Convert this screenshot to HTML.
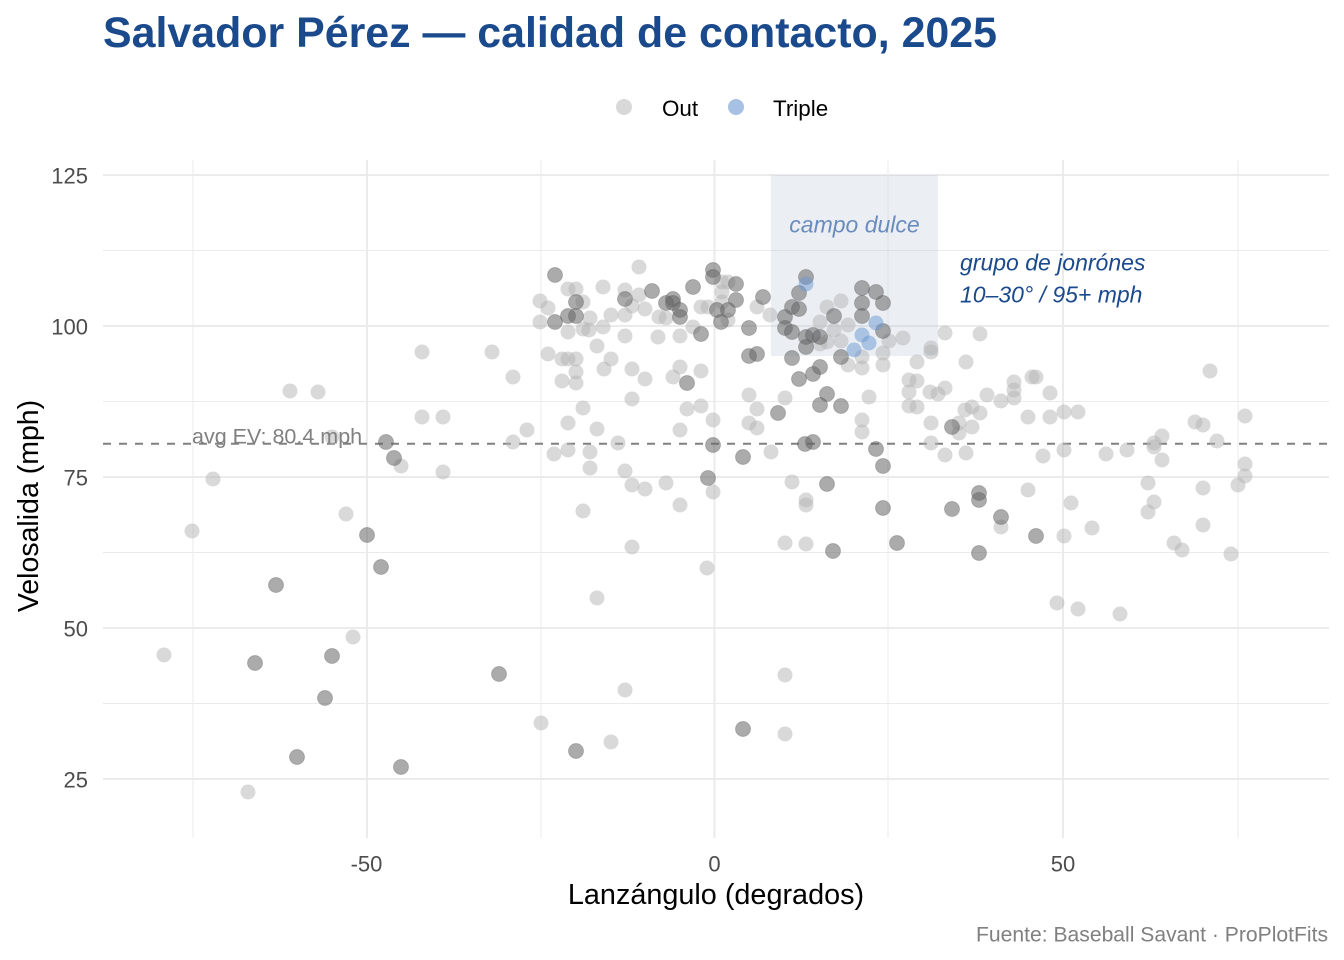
<!DOCTYPE html>
<html>
<head>
<meta charset="utf-8">
<style>
html,body{margin:0;padding:0;background:#fff;}
body{width:1344px;height:960px;overflow:hidden;}
svg{display:block;font-family:"Liberation Sans",Arial,sans-serif;}
.lt{fill:#b3b3b3;fill-opacity:0.5;}
.dk{fill:#666;fill-opacity:0.55;stroke:#555;stroke-opacity:0.3;stroke-width:1;}
.bl{fill:#6a97d0;fill-opacity:0.5;}
</style>
</head>
<body>
<svg width="1344" height="960" viewBox="0 0 1344 960" xmlns="http://www.w3.org/2000/svg">
<rect width="1344" height="960" fill="#fff"/>
<!-- title -->
<text x="103" y="47" font-size="43" font-weight="bold" fill="#1a4a8c" textLength="894" lengthAdjust="spacingAndGlyphs">Salvador Pérez — calidad de contacto, 2025</text>
<!-- legend -->
<circle cx="624" cy="107" r="8" fill="#d9d9d9"/>
<text x="662" y="116" font-size="22.4" fill="#000">Out</text>
<circle cx="736" cy="107" r="8" fill="#a6c1e3"/>
<text x="773" y="116" font-size="22.4" fill="#000">Triple</text>

<!-- grid minor -->
<g stroke="#ebebeb" stroke-width="1">
<line x1="103" x2="1329" y1="250.5" y2="250.5"/>
<line x1="103" x2="1329" y1="401.5" y2="401.5"/>
<line x1="103" x2="1329" y1="552.5" y2="552.5"/>
<line x1="103" x2="1329" y1="703.5" y2="703.5"/>
<line x1="193" x2="193" y1="160" y2="838"/>
<line x1="541" x2="541" y1="160" y2="838"/>
<line x1="888" x2="888" y1="160" y2="838"/>
<line x1="1238" x2="1238" y1="160" y2="838"/>
</g>
<!-- grid major -->
<g stroke="#ebebeb" stroke-width="2">
<line x1="103" x2="1329" y1="175" y2="175"/>
<line x1="103" x2="1329" y1="326" y2="326"/>
<line x1="103" x2="1329" y1="477" y2="477"/>
<line x1="103" x2="1329" y1="628" y2="628"/>
<line x1="103" x2="1329" y1="779" y2="779"/>
<line x1="367" x2="367" y1="160" y2="838"/>
<line x1="714.5" x2="714.5" y1="160" y2="838"/>
<line x1="1063" x2="1063" y1="160" y2="838"/>
</g>
<!-- sweet spot rect -->
<rect x="771" y="175" width="167" height="181" fill="#b8c4d6" fill-opacity="0.28"/>
<!-- avg line -->
<line x1="103" x2="1328" y1="443.7" y2="443.7" stroke="#808080" stroke-width="2" stroke-dasharray="8 8"/>

<!-- light points -->
<g class="lt">
<circle cx="290" cy="391" r="7.5"/><circle cx="318" cy="392" r="7.5"/><circle cx="332" cy="437" r="7.5"/><circle cx="401" cy="466" r="7.5"/><circle cx="213" cy="479" r="7.5"/><circle cx="346" cy="514" r="7.5"/><circle cx="192" cy="531" r="7.5"/><circle cx="353" cy="637" r="7.5"/><circle cx="164" cy="655" r="7.5"/><circle cx="248" cy="792" r="7.5"/>
<circle cx="639" cy="267" r="7.5"/><circle cx="540" cy="301" r="7.5"/><circle cx="548" cy="308" r="7.5"/><circle cx="568" cy="289" r="7.5"/><circle cx="576" cy="289" r="7.5"/><circle cx="583" cy="302" r="7.5"/><circle cx="603" cy="287" r="7.5"/><circle cx="625" cy="290" r="7.5"/><circle cx="639" cy="295" r="7.5"/><circle cx="632" cy="306" r="7.5"/><circle cx="645" cy="309" r="7.5"/><circle cx="701" cy="307" r="7.5"/><circle cx="708" cy="307" r="7.5"/><circle cx="540" cy="322" r="7.5"/><circle cx="568" cy="332" r="7.5"/><circle cx="583" cy="329" r="7.5"/><circle cx="589" cy="330" r="7.5"/><circle cx="590" cy="318" r="7.5"/><circle cx="603" cy="327" r="7.5"/><circle cx="611" cy="315" r="7.5"/><circle cx="625" cy="315" r="7.5"/><circle cx="625" cy="336" r="7.5"/><circle cx="658" cy="337" r="7.5"/><circle cx="659" cy="317" r="7.5"/><circle cx="666" cy="318" r="7.5"/><circle cx="680" cy="336" r="7.5"/><circle cx="693" cy="327" r="7.5"/><circle cx="597" cy="346" r="7.5"/><circle cx="548" cy="354" r="7.5"/><circle cx="562" cy="359" r="7.5"/><circle cx="568" cy="359" r="7.5"/><circle cx="576" cy="359" r="7.5"/><circle cx="611" cy="359" r="7.5"/><circle cx="604" cy="369" r="7.5"/><circle cx="576" cy="372" r="7.5"/><circle cx="562" cy="381" r="7.5"/><circle cx="576" cy="383" r="7.5"/><circle cx="632" cy="369" r="7.5"/><circle cx="645" cy="379" r="7.5"/><circle cx="673" cy="377" r="7.5"/><circle cx="680" cy="367" r="7.5"/><circle cx="701" cy="371" r="7.5"/><circle cx="422" cy="352" r="7.5"/><circle cx="492" cy="352" r="7.5"/><circle cx="513" cy="377" r="7.5"/><circle cx="422" cy="417" r="7.5"/><circle cx="443" cy="417" r="7.5"/><circle cx="527" cy="430" r="7.5"/><circle cx="513" cy="442" r="7.5"/><circle cx="583" cy="408" r="7.5"/><circle cx="568" cy="423" r="7.5"/><circle cx="597" cy="429" r="7.5"/><circle cx="632" cy="399" r="7.5"/><circle cx="687" cy="409" r="7.5"/><circle cx="701" cy="406" r="7.5"/><circle cx="713" cy="420" r="7.5"/><circle cx="680" cy="430" r="7.5"/><circle cx="554" cy="454" r="7.5"/><circle cx="568" cy="450" r="7.5"/><circle cx="590" cy="452" r="7.5"/><circle cx="590" cy="468" r="7.5"/><circle cx="618" cy="443" r="7.5"/><circle cx="443" cy="472" r="7.5"/><circle cx="625" cy="471" r="7.5"/><circle cx="632" cy="485" r="7.5"/><circle cx="645" cy="489" r="7.5"/><circle cx="666" cy="483" r="7.5"/><circle cx="680" cy="505" r="7.5"/><circle cx="713" cy="492" r="7.5"/><circle cx="583" cy="511" r="7.5"/>
<circle cx="722" cy="282" r="7.5"/><circle cx="728" cy="282" r="7.5"/><circle cx="722" cy="292" r="7.5"/><circle cx="722" cy="302" r="7.5"/><circle cx="728" cy="320" r="7.5"/><circle cx="757" cy="307" r="7.5"/><circle cx="770" cy="315" r="7.5"/><circle cx="827" cy="307" r="7.5"/><circle cx="841" cy="301" r="7.5"/><circle cx="820" cy="322" r="7.5"/><circle cx="834" cy="330" r="7.5"/><circle cx="848" cy="325" r="7.5"/><circle cx="827" cy="342" r="7.5"/><circle cx="820" cy="344" r="7.5"/><circle cx="841" cy="341" r="7.5"/><circle cx="848" cy="365" r="7.5"/><circle cx="862" cy="368" r="7.5"/><circle cx="862" cy="357" r="7.5"/><circle cx="883" cy="353" r="7.5"/><circle cx="883" cy="365" r="7.5"/><circle cx="889" cy="341" r="7.5"/><circle cx="903" cy="338" r="7.5"/><circle cx="917" cy="362" r="7.5"/><circle cx="931" cy="348" r="7.5"/><circle cx="931" cy="352" r="7.5"/><circle cx="945" cy="333" r="7.5"/><circle cx="966" cy="362" r="7.5"/><circle cx="980" cy="334" r="7.5"/><circle cx="909" cy="380" r="7.5"/><circle cx="917" cy="381" r="7.5"/><circle cx="909" cy="392" r="7.5"/><circle cx="909" cy="406" r="7.5"/><circle cx="917" cy="407" r="7.5"/><circle cx="930" cy="392" r="7.5"/><circle cx="938" cy="394" r="7.5"/><circle cx="945" cy="388" r="7.5"/><circle cx="965" cy="410" r="7.5"/><circle cx="972" cy="407" r="7.5"/><circle cx="980" cy="413" r="7.5"/><circle cx="972" cy="427" r="7.5"/><circle cx="959" cy="423" r="7.5"/><circle cx="959" cy="433" r="7.5"/><circle cx="987" cy="395" r="7.5"/><circle cx="1001" cy="401" r="7.5"/><circle cx="1014" cy="382" r="7.5"/><circle cx="1014" cy="390" r="7.5"/><circle cx="1014" cy="398" r="7.5"/><circle cx="1028" cy="417" r="7.5"/><circle cx="1032" cy="377" r="7.5"/><circle cx="931" cy="423" r="7.5"/><circle cx="931" cy="443" r="7.5"/><circle cx="945" cy="455" r="7.5"/><circle cx="966" cy="453" r="7.5"/><circle cx="869" cy="397" r="7.5"/><circle cx="862" cy="420" r="7.5"/><circle cx="862" cy="432" r="7.5"/><circle cx="749" cy="395" r="7.5"/><circle cx="757" cy="409" r="7.5"/><circle cx="749" cy="423" r="7.5"/><circle cx="757" cy="428" r="7.5"/><circle cx="785" cy="398" r="7.5"/><circle cx="771" cy="452" r="7.5"/><circle cx="792" cy="482" r="7.5"/><circle cx="806" cy="500" r="7.5"/><circle cx="806" cy="505" r="7.5"/><circle cx="1028" cy="490" r="7.5"/><circle cx="1001" cy="527" r="7.5"/>
<circle cx="1036" cy="377" r="7.5"/><circle cx="1050" cy="393" r="7.5"/><circle cx="1050" cy="417" r="7.5"/><circle cx="1064" cy="412" r="7.5"/><circle cx="1078" cy="412" r="7.5"/><circle cx="1210" cy="371" r="7.5"/><circle cx="1195" cy="422" r="7.5"/><circle cx="1203" cy="425" r="7.5"/><circle cx="1245" cy="416" r="7.5"/><circle cx="1162" cy="436" r="7.5"/><circle cx="1154" cy="443" r="7.5"/><circle cx="1154" cy="447" r="7.5"/><circle cx="1162" cy="460" r="7.5"/><circle cx="1217" cy="441" r="7.5"/><circle cx="1043" cy="456" r="7.5"/><circle cx="1064" cy="450" r="7.5"/><circle cx="1106" cy="454" r="7.5"/><circle cx="1127" cy="450" r="7.5"/><circle cx="1245" cy="464" r="7.5"/><circle cx="1245" cy="476" r="7.5"/><circle cx="1238" cy="485" r="7.5"/><circle cx="1148" cy="483" r="7.5"/><circle cx="1203" cy="488" r="7.5"/><circle cx="1071" cy="503" r="7.5"/><circle cx="1154" cy="502" r="7.5"/><circle cx="1148" cy="512" r="7.5"/><circle cx="1203" cy="525" r="7.5"/><circle cx="1092" cy="528" r="7.5"/><circle cx="1064" cy="536" r="7.5"/><circle cx="1174" cy="543" r="7.5"/><circle cx="1182" cy="550" r="7.5"/><circle cx="1231" cy="554" r="7.5"/><circle cx="1057" cy="603" r="7.5"/><circle cx="1078" cy="609" r="7.5"/><circle cx="1120" cy="614" r="7.5"/>
<circle cx="632" cy="547" r="7.5"/><circle cx="707" cy="568" r="7.5"/><circle cx="597" cy="598" r="7.5"/><circle cx="785" cy="543" r="7.5"/><circle cx="806" cy="544" r="7.5"/><circle cx="625" cy="690" r="7.5"/><circle cx="785" cy="675" r="7.5"/><circle cx="541" cy="723" r="7.5"/><circle cx="611" cy="742" r="7.5"/><circle cx="785" cy="734" r="7.5"/>
</g>
<!-- dark points -->
<g class="dk">
<circle cx="386" cy="442" r="7.5"/><circle cx="394" cy="458" r="7.5"/><circle cx="367" cy="535" r="7.5"/><circle cx="381" cy="567" r="7.5"/><circle cx="276" cy="585" r="7.5"/><circle cx="255" cy="663" r="7.5"/><circle cx="332" cy="656" r="7.5"/><circle cx="325" cy="698" r="7.5"/><circle cx="297" cy="757" r="7.5"/><circle cx="401" cy="767" r="7.5"/>
<circle cx="555" cy="275" r="7.5"/><circle cx="576" cy="302" r="7.5"/><circle cx="625" cy="299" r="7.5"/><circle cx="652" cy="291" r="7.5"/><circle cx="673" cy="299" r="7.5"/><circle cx="673" cy="303" r="7.5"/><circle cx="666" cy="303" r="7.5"/><circle cx="680" cy="310" r="7.5"/><circle cx="680" cy="317" r="7.5"/><circle cx="693" cy="287" r="7.5"/><circle cx="713" cy="270" r="7.5"/><circle cx="713" cy="277" r="7.5"/><circle cx="717" cy="310" r="7.5"/><circle cx="555" cy="322" r="7.5"/><circle cx="568" cy="316" r="7.5"/><circle cx="576" cy="316" r="7.5"/><circle cx="701" cy="334" r="7.5"/><circle cx="687" cy="383" r="7.5"/><circle cx="713" cy="445" r="7.5"/><circle cx="708" cy="478" r="7.5"/>
<circle cx="736" cy="284" r="7.5"/><circle cx="736" cy="300" r="7.5"/><circle cx="728" cy="310" r="7.5"/><circle cx="721" cy="322" r="7.5"/><circle cx="763" cy="297" r="7.5"/><circle cx="749" cy="328" r="7.5"/><circle cx="749" cy="356" r="7.5"/><circle cx="757" cy="354" r="7.5"/><circle cx="806" cy="277" r="7.5"/><circle cx="799" cy="293" r="7.5"/><circle cx="792" cy="307" r="7.5"/><circle cx="799" cy="309" r="7.5"/><circle cx="785" cy="317" r="7.5"/><circle cx="785" cy="328" r="7.5"/><circle cx="792" cy="332" r="7.5"/><circle cx="806" cy="337" r="7.5"/><circle cx="813" cy="335" r="7.5"/><circle cx="820" cy="337" r="7.5"/><circle cx="806" cy="347" r="7.5"/><circle cx="792" cy="358" r="7.5"/><circle cx="799" cy="379" r="7.5"/><circle cx="813" cy="374" r="7.5"/><circle cx="820" cy="367" r="7.5"/><circle cx="827" cy="394" r="7.5"/><circle cx="820" cy="405" r="7.5"/><circle cx="841" cy="406" r="7.5"/><circle cx="778" cy="413" r="7.5"/><circle cx="805" cy="444" r="7.5"/><circle cx="813" cy="442" r="7.5"/><circle cx="743" cy="457" r="7.5"/><circle cx="827" cy="484" r="7.5"/><circle cx="876" cy="449" r="7.5"/><circle cx="883" cy="466" r="7.5"/><circle cx="883" cy="508" r="7.5"/><circle cx="862" cy="288" r="7.5"/><circle cx="876" cy="292" r="7.5"/><circle cx="862" cy="303" r="7.5"/><circle cx="883" cy="303" r="7.5"/><circle cx="862" cy="316" r="7.5"/><circle cx="834" cy="316" r="7.5"/><circle cx="883" cy="331" r="7.5"/><circle cx="841" cy="357" r="7.5"/><circle cx="952" cy="427" r="7.5"/><circle cx="952" cy="509" r="7.5"/><circle cx="979" cy="493" r="7.5"/><circle cx="979" cy="500" r="7.5"/><circle cx="1001" cy="517" r="7.5"/>
<circle cx="833" cy="551" r="7.5"/><circle cx="499" cy="674" r="7.5"/><circle cx="576" cy="751" r="7.5"/><circle cx="743" cy="729" r="7.5"/><circle cx="897" cy="543" r="7.5"/><circle cx="979" cy="553" r="7.5"/><circle cx="1036" cy="536" r="7.5"/>
</g>
<!-- triples -->
<g class="bl">
<circle cx="806" cy="284" r="7.5"/><circle cx="876" cy="323" r="7.5"/><circle cx="862" cy="335" r="7.5"/><circle cx="869" cy="343" r="7.5"/><circle cx="854" cy="350" r="7.5"/>
</g>

<!-- annotations -->
<text x="192" y="443.5" font-size="21.5" fill="#808080">avg EV: 80.4 mph</text>
<text x="854.5" y="232.5" font-size="23" font-style="italic" fill="#6a8bbd" text-anchor="middle">campo dulce</text>
<text x="960" y="270.5" font-size="23" font-style="italic" fill="#1a4a8c">grupo de jonrónes</text>
<text x="960" y="302.5" font-size="23" font-style="italic" fill="#1a4a8c">10–30° / 95+ mph</text>

<!-- y tick labels -->
<g font-size="22" fill="#4d4d4d" text-anchor="end">
<text x="88" y="183.5">125</text>
<text x="88" y="334.5">100</text>
<text x="88" y="485.5">75</text>
<text x="88" y="636.5">50</text>
<text x="88" y="787.5">25</text>
</g>
<!-- x tick labels -->
<g font-size="22" fill="#4d4d4d" text-anchor="middle">
<text x="366.5" y="871.5">-50</text>
<text x="714.5" y="871.5">0</text>
<text x="1063" y="871.5">50</text>
</g>
<!-- axis titles -->
<text x="716" y="904" font-size="28.8" fill="#000" text-anchor="middle">Lanzángulo (degrados)</text>
<text transform="translate(38,506) rotate(-90)" font-size="28.5" fill="#000" text-anchor="middle">Velosalida (mph)</text>
<!-- caption -->
<text x="1328" y="941.5" font-size="21" fill="#808080" text-anchor="end" textLength="352" lengthAdjust="spacingAndGlyphs">Fuente: Baseball Savant · ProPlotFits</text>
</svg>
</body>
</html>
